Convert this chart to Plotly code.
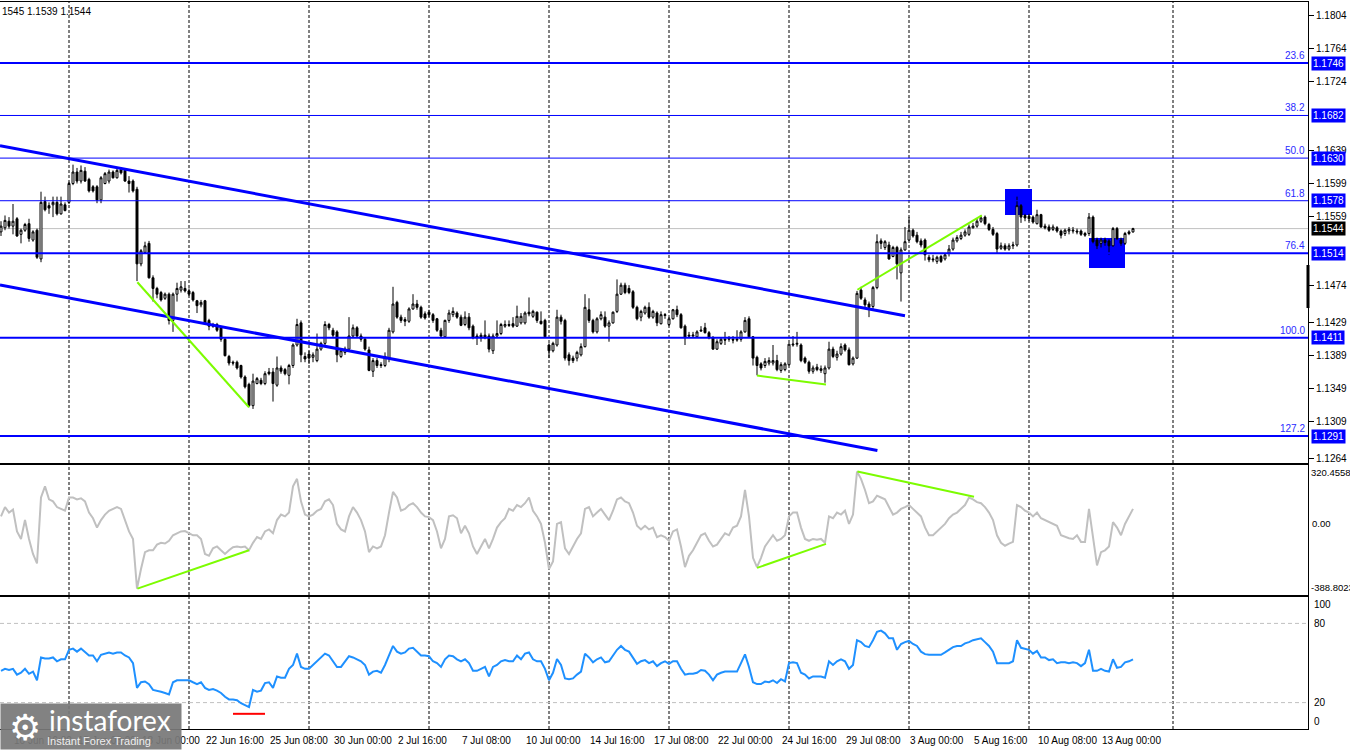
import plotly.graph_objects as go
import numpy as np

# EURUSD H4 bars; bar index 0 = Mon 15 Jun 2020 00:00, prices in 1/10000
BAR_START = -17
OPEN = [
    11540, 11545, 11553, 11547, 11556, 11537, 11542, 11550, 11530, 11542,
    11507, 11577, 11572, 11573, 11576, 11562, 11573, 11576, 11599, 11613,
    11602, 11614, 11604, 11595, 11595, 11579, 11599, 11602, 11613, 11606,
    11616, 11615, 11602, 11602, 11592, 11501, 11515, 11526, 11484, 11471,
    11466, 11459, 11464, 11432, 11464, 11469, 11471, 11468, 11466, 11456,
    11451, 11456, 11432, 11427, 11427, 11423, 11409, 11388, 11381, 11381,
    11377, 11363, 11354, 11328, 11355, 11359, 11355, 11369, 11369, 11353,
    11374, 11372, 11365, 11377, 11402, 11429, 11388, 11391, 11387, 11383,
    11397, 11404, 11427, 11420, 11418, 11388, 11393, 11397, 11413, 11423,
    11413, 11409, 11396, 11370, 11383, 11378, 11377, 11386, 11418, 11454,
    11436, 11433, 11431, 11446, 11452, 11448, 11440, 11442, 11439, 11434,
    11420, 11412, 11432, 11439, 11441, 11436, 11427, 11436, 11425, 11413,
    11414, 11414, 11413, 11395, 11413, 11416, 11425, 11427, 11428, 11425,
    11429, 11429, 11442, 11437, 11442, 11431, 11432, 11402, 11395, 11402,
    11436, 11432, 11390, 11386, 11386, 11390, 11400, 11445, 11432, 11418,
    11434, 11436, 11425, 11429, 11443, 11464, 11475, 11471, 11467, 11448,
    11436, 11441, 11448, 11436, 11441, 11428, 11438, 11427, 11434, 11445,
    11439, 11425, 11414, 11413, 11412, 11419, 11423, 11417, 11411, 11397,
    11404, 11409, 11409, 11409, 11408, 11409, 11418, 11434, 11412, 11387,
    11379, 11377, 11380, 11380, 11383, 11371, 11372, 11378, 11402, 11403,
    11402, 11386, 11381, 11370, 11375, 11371, 11367, 11374, 11397, 11387,
    11391, 11402, 11396, 11379, 11386, 11469, 11457, 11452, 11449, 11472,
    11529, 11521, 11524, 11510, 11521, 11490, 11518, 11530, 11542, 11536,
    11529, 11530, 11509, 11507, 11504, 11510, 11507, 11514, 11519, 11529,
    11532, 11536, 11537, 11545, 11547, 11553, 11558, 11549, 11543, 11538,
    11520, 11523, 11519, 11523, 11524, 11572, 11560, 11559, 11558, 11550,
    11561, 11547, 11546, 11543, 11545, 11541, 11538, 11541, 11541, 11541,
    11541, 11538, 11538, 11558, 11530, 11526, 11530, 11529, 11523, 11544,
    11530, 11526, 11538, 11540,
]
HIGH = [
    11553, 11560, 11558, 11574, 11558, 11544, 11551, 11556, 11542, 11544,
    11589, 11583, 11576, 11583, 11583, 11583, 11576, 11601, 11622, 11618,
    11621, 11619, 11606, 11597, 11597, 11608, 11613, 11616, 11615, 11618,
    11619, 11616, 11608, 11604, 11595, 11519, 11528, 11529, 11487, 11473,
    11468, 11466, 11466, 11466, 11478, 11480, 11480, 11471, 11468, 11457,
    11457, 11457, 11434, 11429, 11429, 11425, 11411, 11390, 11383, 11383,
    11378, 11365, 11356, 11367, 11363, 11362, 11370, 11374, 11374, 11388,
    11377, 11374, 11379, 11404, 11434, 11432, 11393, 11395, 11393, 11416,
    11406, 11431, 11429, 11423, 11420, 11397, 11400, 11436, 11427, 11425,
    11416, 11411, 11400, 11386, 11386, 11381, 11393, 11423, 11473, 11456,
    11439, 11436, 11448, 11464, 11457, 11450, 11443, 11445, 11441, 11435,
    11423, 11433, 11445, 11448, 11443, 11439, 11443, 11441, 11427, 11416,
    11417, 11432, 11416, 11416, 11432, 11429, 11432, 11432, 11436, 11450,
    11441, 11443, 11460, 11445, 11443, 11443, 11434, 11404, 11406, 11445,
    11439, 11434, 11393, 11389, 11395, 11404, 11464, 11459, 11434, 11436,
    11443, 11443, 11432, 11443, 11482, 11478, 11478, 11475, 11469, 11450,
    11445, 11450, 11454, 11445, 11443, 11443, 11441, 11436, 11446, 11450,
    11441, 11427, 11418, 11418, 11420, 11425, 11429, 11419, 11413, 11409,
    11411, 11418, 11413, 11413, 11420, 11420, 11436, 11437, 11413, 11389,
    11381, 11386, 11387, 11402, 11390, 11381, 11381, 11404, 11413, 11418,
    11404, 11388, 11383, 11377, 11379, 11377, 11377, 11406, 11400, 11395,
    11404, 11404, 11399, 11388, 11468, 11473, 11460, 11455, 11474, 11537,
    11532, 11530, 11528, 11523, 11523, 11521, 11546, 11558, 11544, 11540,
    11532, 11532, 11512, 11512, 11511, 11512, 11514, 11524, 11533, 11536,
    11540, 11543, 11549, 11551, 11556, 11560, 11560, 11551, 11546, 11540,
    11527, 11526, 11526, 11528, 11583, 11574, 11562, 11562, 11560, 11567,
    11562, 11550, 11549, 11549, 11547, 11543, 11544, 11546, 11546, 11544,
    11543, 11540, 11563, 11560, 11533, 11533, 11533, 11531, 11546, 11546,
    11533, 11540, 11542, 11545,
]
LOW = [
    11535, 11542, 11544, 11537, 11534, 11526, 11540, 11528, 11528, 11507,
    11503, 11565, 11562, 11558, 11560, 11561, 11565, 11574, 11597, 11599,
    11599, 11601, 11588, 11588, 11575, 11575, 11598, 11599, 11605, 11605,
    11610, 11601, 11588, 11588, 11480, 11498, 11514, 11483, 11455, 11459,
    11455, 11457, 11427, 11418, 11455, 11466, 11466, 11462, 11455, 11441,
    11448, 11427, 11420, 11423, 11418, 11406, 11388, 11377, 11377, 11372,
    11361, 11349, 11326, 11324, 11354, 11353, 11353, 11365, 11333, 11351,
    11367, 11365, 11354, 11374, 11400, 11381, 11381, 11379, 11381, 11381,
    11395, 11402, 11420, 11411, 11381, 11386, 11390, 11396, 11411, 11411,
    11406, 11395, 11370, 11363, 11374, 11374, 11375, 11381, 11416, 11434,
    11429, 11425, 11429, 11445, 11445, 11434, 11433, 11436, 11429, 11418,
    11411, 11411, 11429, 11436, 11434, 11425, 11425, 11420, 11409, 11402,
    11406, 11409, 11393, 11391, 11411, 11414, 11423, 11424, 11423, 11424,
    11427, 11427, 11437, 11435, 11429, 11427, 11411, 11386, 11393, 11400,
    11427, 11383, 11377, 11380, 11382, 11388, 11399, 11429, 11416, 11416,
    11432, 11423, 11406, 11428, 11441, 11463, 11464, 11464, 11446, 11432,
    11431, 11439, 11434, 11434, 11425, 11427, 11434, 11425, 11433, 11436,
    11422, 11402, 11411, 11411, 11411, 11418, 11416, 11409, 11396, 11396,
    11402, 11402, 11406, 11404, 11406, 11406, 11417, 11411, 11377, 11365,
    11371, 11374, 11377, 11377, 11370, 11368, 11370, 11377, 11400, 11400,
    11381, 11379, 11367, 11367, 11370, 11368, 11356, 11372, 11386, 11383,
    11389, 11394, 11377, 11377, 11385, 11457, 11448, 11436, 11446, 11470,
    11519, 11518, 11506, 11509, 11482, 11455, 11517, 11529, 11533, 11526,
    11521, 11505, 11503, 11503, 11501, 11502, 11505, 11510, 11517, 11527,
    11530, 11534, 11535, 11544, 11545, 11551, 11548, 11541, 11535, 11514,
    11518, 11517, 11517, 11519, 11522, 11551, 11553, 11553, 11550, 11549,
    11545, 11543, 11540, 11541, 11539, 11532, 11535, 11537, 11538, 11537,
    11535, 11534, 11535, 11526, 11519, 11521, 11523, 11512, 11522, 11530,
    11523, 11524, 11536, 11539,
]
CLOSE = [
    11547, 11554, 11547, 11553, 11535, 11542, 11549, 11532, 11540, 11509,
    11576, 11567, 11569, 11576, 11562, 11574, 11566, 11599, 11613, 11602,
    11615, 11602, 11590, 11590, 11579, 11606, 11611, 11613, 11606, 11615,
    11612, 11602, 11599, 11590, 11501, 11517, 11523, 11484, 11471, 11464,
    11457, 11464, 11432, 11464, 11471, 11473, 11468, 11464, 11457, 11450,
    11454, 11429, 11425, 11425, 11420, 11409, 11389, 11380, 11380, 11374,
    11363, 11351, 11328, 11358, 11361, 11355, 11367, 11367, 11355, 11374,
    11370, 11367, 11377, 11402, 11427, 11390, 11385, 11386, 11390, 11397,
    11404, 11427, 11423, 11414, 11390, 11395, 11397, 11413, 11423, 11413,
    11409, 11397, 11371, 11383, 11377, 11377, 11388, 11420, 11452, 11436,
    11432, 11431, 11446, 11452, 11448, 11436, 11435, 11439, 11432, 11420,
    11413, 11432, 11441, 11443, 11436, 11426, 11436, 11423, 11411, 11411,
    11411, 11411, 11397, 11413, 11416, 11427, 11427, 11426, 11425, 11437,
    11437, 11441, 11440, 11443, 11432, 11428, 11412, 11395, 11404, 11436,
    11431, 11386, 11383, 11383, 11393, 11400, 11448, 11432, 11418, 11434,
    11439, 11425, 11429, 11442, 11464, 11475, 11466, 11466, 11448, 11434,
    11443, 11448, 11436, 11443, 11429, 11439, 11439, 11434, 11445, 11439,
    11423, 11411, 11413, 11414, 11418, 11420, 11417, 11411, 11397, 11406,
    11409, 11408, 11410, 11408, 11409, 11418, 11432, 11412, 11386, 11377,
    11374, 11382, 11383, 11383, 11372, 11378, 11379, 11403, 11403, 11404,
    11383, 11381, 11370, 11374, 11372, 11373, 11374, 11397, 11388, 11391,
    11400, 11396, 11378, 11386, 11465, 11459, 11451, 11448, 11472, 11528,
    11526, 11528, 11507, 11521, 11501, 11518, 11528, 11542, 11535, 11528,
    11524, 11512, 11506, 11506, 11509, 11504, 11512, 11519, 11530, 11533,
    11536, 11540, 11546, 11547, 11553, 11557, 11550, 11543, 11537, 11519,
    11523, 11519, 11523, 11524, 11572, 11558, 11557, 11556, 11552, 11561,
    11546, 11545, 11542, 11546, 11541, 11536, 11542, 11543, 11542, 11540,
    11537, 11536, 11558, 11528, 11523, 11530, 11527, 11523, 11544, 11532,
    11526, 11538, 11540, 11544,
]
CCI = [
    40, 91, 61, 77, -42, -83, 20, -83, -165, -216,
    143, 204, 133, 122, 91, 81, 71, 143, 143, 133,
    139, 122, 61, 30, -21, 20, 50, 71, 81, 91,
    81, 20, -42, -83, -354, -247, -155, -145, -145, -114,
    -104, -108, -93, -63, -52, -42, -40, -52, -63, -63,
    -83, -165, -175, -134, -124, -145, -165, -145, -128, -124,
    -128, -124, -144, -104, -73, -83, -42, -31, -52, 20,
    50, 40, 61, 204, 245, 122, 50, 40, 50, 71,
    81, 122, 133, 102, -1, -31, -42, 40, 91, 61,
    20, -42, -155, -124, -134, -124, -63, 61, 174, 143,
    71, 81, 102, 112, 91, 61, 40, 36, 20, -42,
    -134, -83, 40, 46, 30, -52, -11, -52, -124, -165,
    -124, -83, -134, -83, -21, 9, 30, 81, 71, 102,
    91, 112, 143, 71, 40, -1, -104, -247, -206, -1,
    9, -134, -165, -124, -83, -52, 81, 91, 40, 61,
    81, 50, 20, 71, 133, 143, 122, 112, 61, -11,
    -31, -11, -31, -21, -73, -63, -73, -93, -42, -31,
    -124, -237, -175, -145, -104, -63, -52, -93, -124, -114,
    -83, -52, -63, -21, -11, 40, 184, 40, -186, -237,
    -186, -124, -93, -63, -93, -83, -63, 40, 61, 61,
    -21, -83, -93, -83, -87, -83, -104, 40, 30, 61,
    50, 71, -1, 50, 285, 245, 184, 112, 122, 153,
    143, 133, 91, 50, 61, 81, 91, 102, 81, 61,
    40, -20, -63, -63, -42, -21, -1, 30, 50, 61,
    81, 102, 143, 133, 118, 112, 91, 61, 20, -63,
    -104, -120, -108, -99, 102, 91, 71, 61, 40, 61,
    30, 20, 9, -1, -11, -63, -73, -79, -83, -63,
    -99, -99, 81, -63, -227, -155, -145, -124, 9, -21,
    -63, -1, 40, 81,
]
RSI = [
    44.1, 45.6, 44.7, 45.6, 41.2, 42.6, 45.6, 41.8, 43.5, 36.9,
    54.2, 53.4, 53.4, 54.2, 51.3, 52.8, 52.8, 60.0, 60.9, 58.6,
    60.9, 58.6, 55.7, 55.7, 51.3, 56.2, 57.1, 58.0, 57.1, 58.0,
    58.0, 55.7, 54.2, 49.9, 31.1, 35.4, 36.0, 34.0, 29.6, 29.1,
    28.2, 27.3, 26.2, 35.4, 36.9, 36.9, 36.9, 36.9, 35.4, 34.0,
    35.4, 31.1, 29.6, 30.2, 29.1, 27.3, 24.4, 22.4, 22.4, 21.8,
    19.5, 18.1, 16.6, 29.6, 28.2, 29.1, 34.8, 35.4, 31.1, 39.8,
    38.9, 38.9, 45.6, 48.5, 57.1, 47.0, 45.6, 45.6, 48.5, 51.3,
    54.2, 57.1, 55.7, 51.3, 47.0, 47.0, 51.3, 55.1, 54.2, 52.8,
    51.3, 48.5, 41.2, 43.5, 44.1, 42.6, 48.5, 55.7, 62.9, 58.6,
    57.1, 58.0, 60.9, 61.5, 58.6, 55.7, 55.7, 55.1, 51.3, 49.9,
    47.0, 52.8, 55.7, 55.1, 52.8, 51.3, 52.8, 49.9, 44.1, 44.1,
    45.6, 47.0, 39.8, 47.0, 48.5, 51.3, 52.2, 51.3, 51.3, 55.7,
    52.8, 57.1, 58.0, 52.8, 51.3, 51.3, 45.6, 36.9, 42.6, 53.0,
    48.5, 38.3, 37.7, 38.3, 41.2, 43.5, 57.1, 54.2, 50.5, 52.8,
    54.2, 50.5, 51.3, 55.7, 60.0, 62.9, 60.0, 58.6, 54.2, 49.3,
    51.3, 52.2, 49.9, 51.3, 47.6, 49.9, 51.3, 49.3, 51.3, 51.3,
    45.6, 41.2, 41.8, 41.8, 42.6, 44.7, 44.1, 41.2, 36.9, 41.2,
    42.6, 43.5, 43.5, 43.5, 43.5, 49.9, 56.6, 47.0, 35.4, 34.0,
    34.0, 36.0, 35.4, 36.9, 34.8, 37.7, 36.0, 49.9, 50.5, 49.9,
    42.6, 41.2, 38.3, 39.8, 39.8, 39.8, 38.9, 51.3, 48.5, 51.3,
    52.8, 51.3, 45.6, 48.5, 67.3, 65.8, 62.9, 62.0, 67.3, 73.6,
    74.5, 72.5, 68.7, 68.7, 60.0, 64.4, 65.8, 66.7, 64.4, 62.9,
    58.6, 56.7, 56.2, 56.2, 56.2, 56.2, 58.0, 60.0, 62.0, 62.9,
    62.9, 64.9, 65.8, 67.3, 67.8, 68.7, 65.8, 62.9, 58.6, 49.9,
    49.9, 49.9, 49.9, 51.3, 67.3, 61.5, 60.9, 60.0, 57.1, 59.2,
    54.2, 54.2, 52.2, 52.8, 49.9, 50.5, 50.5, 49.9, 50.5, 49.9,
    47.6, 49.9, 60.0, 44.1, 44.1, 45.6, 44.1, 43.5, 52.8, 46.4,
    47.0, 50.5, 51.3, 52.8,
]

# fibonacci grid
FIB_LEVELS = [1.1746, 1.1682, 1.1630, 1.1578, 1.1514, 1.1411, 1.1291]
FIB_NAMES = ["23.6", "38.2", "50.0", "61.8", "76.4", "100.0", "127.2"]
FIB_THICK = [True, False, False, False, True, True, True]

# right scale ticks
PRICE_TICKS = [1.1804, 1.1764, 1.1724, 1.1639, 1.1599, 1.1559,
               1.1474, 1.1429, 1.1389, 1.1349, 1.1309, 1.1264]
CCI_MAX, CCI_MIN = 320.4558, -388.8023

# channel lines (bar, price)
CHANNEL_UP = ([-17.25, 209], [1.16451, 1.14376])
CHANNEL_DN = ([-17.25, 202.1], [1.14753, 1.12733])

# green divergence lines
GREEN_PRICE = [([17.1, 45], [1.14785, 1.13261]),
               ([172, 189.25], [1.13647, 1.13537]),
               ([197.1, 228.2], [1.14694, 1.15602])]
GREEN_CCI = [([17.1, 45], [-354, -145]),
             ([172, 189.25], [-241, -110]),
             ([197.1, 226.25], [285, 147])]
RED_RSI = ([41, 49], [11.5, 11.5])

# blue zones (bar0, bar1, price0, price1)
ZONES = [(234, 240.75, 1.15606, 1.15923), (255, 264, 1.14960, 1.15325)]

# week separators and time axis
GRID_BARS = [0, 30, 60, 90, 120, 150, 180, 210, 240, 276]
TIME_BARS = [-14, 2, 18, 34, 50, 66, 82, 98, 114, 130, 146, 162, 178, 194, 210, 226, 242, 258]
TIME_LABELS = ["10 Jun 16:00", "15 Jun 08:00", "18 Jun 00:00", "22 Jun 16:00", "25 Jun 08:00",
               "30 Jun 00:00", "2 Jul 16:00", "7 Jul 08:00", "10 Jul 00:00", "14 Jul 16:00",
               "17 Jul 08:00", "22 Jul 00:00", "24 Jul 16:00", "29 Jul 08:00", "3 Aug 00:00",
               "5 Aug 16:00", "10 Aug 08:00", "13 Aug 00:00"]

W, H = 1350, 750
XR = 1308 / W
FONT = "Liberation Sans"
BLUE = "#0000FF"

bars = list(range(BAR_START, BAR_START + len(CLOSE)))
o = np.array(OPEN) / 10000
h = np.array(HIGH) / 10000
l = np.array(LOW) / 10000
c = np.array(CLOSE) / 10000
last = c[-1]

fig = go.Figure()

fig.add_trace(go.Candlestick(
    x=bars, open=o, high=h, low=l, close=c,
    increasing=dict(line=dict(color="black", width=1), fillcolor="white"),
    decreasing=dict(line=dict(color="black", width=1), fillcolor="black"),
    whiskerwidth=0, showlegend=False, hoverinfo="skip",
    xaxis="x", yaxis="y",
))

for xs, ys in [CHANNEL_UP, CHANNEL_DN]:
    fig.add_trace(go.Scatter(x=xs, y=ys, mode="lines", line=dict(color=BLUE, width=3),
                             showlegend=False, hoverinfo="skip", xaxis="x", yaxis="y"))
for xs, ys in GREEN_PRICE:
    fig.add_trace(go.Scatter(x=xs, y=ys, mode="lines", line=dict(color="#7CFC00", width=2),
                             showlegend=False, hoverinfo="skip", xaxis="x", yaxis="y"))

fig.add_trace(go.Scatter(x=bars, y=CCI, mode="lines", line=dict(color="#C0C0C0", width=2),
                         showlegend=False, hoverinfo="skip", xaxis="x2", yaxis="y2"))
for xs, ys in GREEN_CCI:
    fig.add_trace(go.Scatter(x=xs, y=ys, mode="lines", line=dict(color="#7CFC00", width=2),
                             showlegend=False, hoverinfo="skip", xaxis="x2", yaxis="y2"))

fig.add_trace(go.Scatter(x=bars, y=RSI, mode="lines", line=dict(color="#1E90FF", width=2),
                         showlegend=False, hoverinfo="skip", xaxis="x3", yaxis="y3"))
fig.add_trace(go.Scatter(x=RED_RSI[0], y=RED_RSI[1], mode="lines", line=dict(color="red", width=2),
                         showlegend=False, hoverinfo="skip", xaxis="x3", yaxis="y3"))

shapes = []
# blue zones behind candles
for b0, b1, p0, p1 in ZONES:
    shapes.append(dict(type="rect", xref="x", yref="y", x0=b0, x1=b1, y0=p0, y1=p1,
                       fillcolor=BLUE, line=dict(width=0), layer="below"))
# week separators
for g in GRID_BARS:
    for yr in ["y domain", "y2 domain", "y3 domain"]:
        shapes.append(dict(type="line", xref="x", yref=yr, x0=g, x1=g, y0=0, y1=1,
                           line=dict(color="black", width=1, dash="3px,2px"), layer="below"))
# current price line
shapes.append(dict(type="line", xref="x domain", yref="y", x0=0, x1=1, y0=last, y1=last,
                   line=dict(color="#C0C0C0", width=1), layer="below"))
# fibo lines
for lev, thick in zip(FIB_LEVELS, FIB_THICK):
    shapes.append(dict(type="line", xref="x domain", yref="y", x0=0, x1=1, y0=lev, y1=lev,
                       line=dict(color=BLUE, width=2 if thick else 1), layer="above"))
# RSI levels
for lv in [80, 20]:
    shapes.append(dict(type="line", xref="x domain", yref="y3", x0=0, x1=1, y0=lv, y1=lv,
                       line=dict(color="#C0C0C0", width=1, dash="4px,3px"), layer="below"))
# scale marker on the right edge
shapes.append(dict(type="line", xref="paper", yref="y", x0=XR, x1=XR, y0=1.14471, y1=1.14996,
                   line=dict(color="black", width=3)))

ann = []
small = dict(family=FONT, size=10, color="black")
for lev, name in zip(FIB_LEVELS, FIB_NAMES):
    ann.append(dict(xref="paper", yref="y", x=XR, y=lev, xanchor="right", yanchor="bottom",
                    xshift=-1, text=name, showarrow=False,
                    font=dict(family=FONT, size=10, color="#2A2AFF")))
    ann.append(dict(xref="paper", yref="y", x=XR, y=lev, xanchor="left", yanchor="middle",
                    xshift=3, text=f"{lev:.4f}", showarrow=False, bgcolor=BLUE, borderpad=1,
                    height=11, font=dict(family=FONT, size=10, color="white")))
ann.append(dict(xref="paper", yref="y", x=XR, y=last, xanchor="left", yanchor="middle",
                xshift=3, text=f"{last:.4f}", showarrow=False, bgcolor="black", borderpad=1,
                height=11, font=dict(family=FONT, size=10, color="white")))

# CCI scale
cci_font = dict(family=FONT, size=9.5, color="black")
ann.append(dict(xref="paper", yref="y2", x=XR, y=CCI_MAX, xanchor="left", yanchor="top",
                xshift=1, text=f"{CCI_MAX:.4f}", showarrow=False, font=cci_font))
ann.append(dict(xref="paper", yref="y2", x=XR, y=0, xanchor="left", yanchor="middle",
                xshift=2, text="0.00", showarrow=False, font=cci_font))
ann.append(dict(xref="paper", yref="y2", x=XR, y=CCI_MIN, xanchor="left", yanchor="bottom",
                xshift=1, text=f"{CCI_MIN:.4f}", showarrow=False, font=cci_font))
# RSI scale
for v, ya in [(100, "top"), (80, "middle"), (20, "middle"), (0, "bottom")]:
    ann.append(dict(xref="paper", yref="y3", x=XR, y=v, xanchor="left", yanchor=ya,
                    xshift=4, text=str(v), showarrow=False, font=small))

# time labels
for b, t in zip(TIME_BARS, TIME_LABELS):
    ann.append(dict(xref="x3", yref="paper", x=b, y=1 - 740 / H, xanchor="left", yanchor="middle",
                    xshift=-1, text=t, showarrow=False, font=small))

# header
ann.append(dict(xref="paper", yref="paper", x=0, y=1 - 11 / H, xanchor="left", yanchor="middle",
                text="1545 1.1539 1.1544", showarrow=False, font=small))

# watermark
ann.append(dict(xref="paper", yref="paper", x=0, y=0, xanchor="left", yanchor="bottom",
                text=" ", width=180, height=45, bgcolor="rgba(120,120,120,0.93)",
                borderpad=0, showarrow=False))
ann.append(dict(xref="paper", yref="paper", x=25 / W, y=1 - 727 / H, xanchor="center", yanchor="middle",
                text="⚙", showarrow=False, font=dict(family="DejaVu Sans", size=36, color="white")))
ann.append(dict(xref="paper", yref="paper", x=110 / W, y=1 - 720 / H, xanchor="center", yanchor="middle",
                text="instaforex", showarrow=False, font=dict(family="Lato", size=28, color="white")))
ann.append(dict(xref="paper", yref="paper", x=99 / W, y=1 - 741 / H, xanchor="center", yanchor="middle",
                text="Instant Forex Trading", showarrow=False, font=dict(family=FONT, size=11, color="#EEEEEE")))

xcommon = dict(range=[-17.25, 309.75], domain=[0, XR], showgrid=False, zeroline=False,
               showticklabels=False, ticks="", showline=True, mirror=True, linecolor="black",
               linewidth=1, fixedrange=True)
ycommon = dict(showgrid=False, zeroline=False, side="right", showline=True, linecolor="black",
               linewidth=1, fixedrange=True)

fig.update_layout(
    width=W, height=H,
    margin=dict(l=0, r=0, t=0, b=0),
    paper_bgcolor="white", plot_bgcolor="white",
    showlegend=False,
    xaxis=dict(**xcommon, anchor="y", rangeslider=dict(visible=False)),
    xaxis2=dict(**xcommon, anchor="y2", matches="x"),
    xaxis3=dict(**xcommon, anchor="y3", matches="x"),
    yaxis=dict(**ycommon, anchor="x", domain=[1 - 463 / H, 1 - 2 / H], range=[1.125807, 1.182041],
               tickvals=PRICE_TICKS, ticktext=[f"{v:.4f}" for v in PRICE_TICKS],
               ticks="outside", ticklen=5, tickcolor="black",
               tickfont=dict(family=FONT, size=10, color="black")),
    yaxis2=dict(**ycommon, anchor="x2", domain=[1 - 595 / H, 1 - 465 / H], range=[CCI_MIN, CCI_MAX],
                showticklabels=False, ticks=""),
    yaxis3=dict(**ycommon, anchor="x3", domain=[1 - 729 / H, 1 - 597 / H], range=[0, 100],
                showticklabels=False, ticks=""),
    shapes=shapes,
    annotations=ann,
)

fig.write_html("out.html", config={"displayModeBar": False},
               post_script="document.body.style.margin='0px';")
